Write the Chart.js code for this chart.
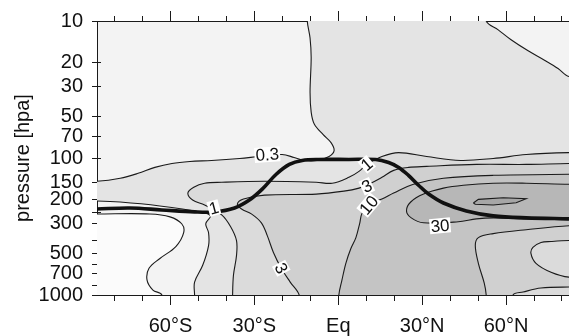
<!DOCTYPE html>
<html>
<head>
<meta charset="utf-8">
<script src="https://cdn.jsdelivr.net/npm/chart.js@4.4.1/dist/chart.umd.min.js"></script>
<style>
  html, body { margin: 0; padding: 0; background: #fff; }
  #wrap { width: 571px; height: 336px; }
</style>
</head>
<body>
<div id="wrap"><canvas id="section" width="571" height="336"></canvas></div>
<script>
// latitude / pressure extent of the cross-section
const latRange = [-86.3, 82.5];
const presRange = [10, 1000];

// axis ticks
const latTicks = [-80, -70, -60, -50, -40, -30, -20, -10, 0, 10, 20, 30, 40, 50, 60, 70, 80];
const latNames = { '-60': '60°S', '-30': '30°S', '0': 'Eq', '30': '30°N', '60': '60°N' };
const presTicks = [10, 20, 30, 50, 70, 100, 150, 200, 250, 300, 400, 500, 600, 700, 850, 1000];
const presLabels = [10, 20, 30, 50, 70, 100, 150, 200, 300, 500, 700, 1000];

// contour levels
const levels = [0.1, 0.3, 1, 3, 10, 30, 100];

// contour outlines as [lat, hPa]; points beyond the frame close each region
const below01 = [[-95, 256], [-86.3, 256], [-67.4, 256], [-60.2, 269], [-56, 302], [-55.3, 351],
  [-58.1, 443], [-63.8, 541], [-67.7, 638], [-68.4, 779], [-66.3, 920], [-63.1, 1000],
  [-63.1, 1400], [-95, 1400]];

const c03 = [[-95, 148], [-86.3, 148], [-78, 140.6], [-71.6, 129.4], [-65.6, 117.1], [-59.5, 109.6],
  [-53.1, 106], [-45.3, 104.2], [-35.3, 100.8], [-28.2, 97.5], [-20.1, 94.4], [-15.8, 99.1],
  [-12.2, 104.2], [-7.6, 104.2], [-3.3, 97.5], [-1.5, 88.3], [-2.6, 77.3], [-5.4, 67.6],
  [-8.6, 56.4], [-9.7, 46.2], [-10.1, 33.1], [-9.7, 18.5], [-10.1, 13.3], [-11.1, 10],
  [-11.1, 7], [52.9, 7], [52.9, 10], [57.2, 11.6], [61.8, 13.7], [67.9, 16.5], [73.9, 19.4],
  [78.6, 22.2], [82.5, 25.4], [95, 25.4], [95, 1400], [-51.4, 1400], [-51.4, 1000],
  [-51.4, 805], [-48.5, 607], [-46.4, 435.5], [-46.4, 351], [-47.4, 302], [-45.7, 264],
  [-49.6, 247.5], [-63.8, 223.9], [-78, 209.5], [-86.3, 206], [-95, 206]];

const c1 = [[-37.8, 1400], [-37.8, 1000], [-37.5, 717], [-36.4, 514], [-36.4, 400.6], [-38.5, 317.5],
  [-41.7, 260], [-47.8, 220.3], [-52.1, 202.7], [-53.8, 180.4], [-51.7, 163.3], [-47.8, 152.8],
  [-41.7, 150.3], [-26.4, 147.9], [-7.9, 150.3], [-2.2, 152.8], [3.8, 138.3], [7.4, 125.1],
  [10.2, 111.4], [15.6, 97.5], [21.6, 91.3], [31.6, 97.5], [43.7, 104.2], [55.4, 100.8],
  [67.2, 94.4], [82.5, 91.3], [95, 91.3], [95, 1400]];

const c3 = [[-14, 1400], [-14, 1000], [-17.2, 805], [-20.4, 638], [-23.2, 489], [-25.4, 368.5],
  [-27.5, 297.2], [-31.1, 255.8], [-34.6, 235.5], [-36.1, 216.6], [-33.9, 199.4], [-26.4, 186.5],
  [-7.9, 183.4], [2, 174.6], [7.4, 166], [10.9, 155.4], [15.6, 138.3], [19.8, 123.1],
  [25.1, 117.1], [31.6, 115.2], [49.4, 111.4], [67.2, 111.4], [82.5, 109.6], [95, 109.6],
  [95, 400.6], [82.5, 400.6], [76.1, 407], [72.5, 414], [69.6, 450], [68.9, 497.4], [70.7, 587],
  [76.1, 682], [82.5, 741], [95, 741], [95, 875], [82.5, 875], [72.5, 889.6], [66.1, 951],
  [62.5, 1000], [62.5, 1400]];

const c10 = [[0.2, 1400], [0.2, 1000], [1.3, 779], [2.7, 587], [4.5, 458], [6.3, 381], [7.7, 297],
  [8.4, 255.8], [10.9, 216.6], [15.6, 199.4], [19.8, 180.4], [26.9, 155.4], [37.6, 140.6],
  [55.4, 133.8], [82.5, 131.5], [95, 131.5], [95, 312.3], [82.5, 312.3], [67.2, 333.7],
  [55.4, 356.6], [50.1, 381], [49, 435.5], [50.1, 587], [52.2, 819], [52.9, 1000], [52.9, 1400]];

const c30 = [[95, 155.4], [82.5, 155.4], [67.2, 152.8], [55.4, 152.8], [44.7, 158], [37.6, 166],
  [30.5, 183.4], [25.9, 209.5], [24.4, 243.4], [26.1, 273.4], [30.5, 297.2], [42.9, 292],
  [49.4, 278], [55.4, 273.4], [67.2, 278], [82.5, 282.6], [95, 282.6]];

const c100 = [[48.3, 213.1], [50.1, 200.4], [59, 195], [67.2, 198.5], [63.6, 212], [55.4, 220.3],
  [49, 217.8], [48.3, 213.1]];

// thermal tropopause
const tropo = [[-86.3, 235.5], [-74.5, 231.5], [-63.1, 239.4], [-51.4, 247.5], [-44.2, 247.5],
  [-37.1, 231.5], [-31.8, 202.7], [-27.2, 168.8], [-22.2, 131.5], [-17.5, 111.4], [-12.9, 104.2],
  [-6.9, 102.5], [3.8, 102.5], [13.4, 102.5], [18, 107.8], [21.6, 117.1], [25.1, 133.8],
  [28.7, 158], [32.3, 183.4], [37.6, 213.1], [45.8, 243.4], [55.4, 264.4], [67.2, 273.4],
  [82.5, 278]];

// inline contour labels
const labelLevel = [0.3, 1, 3, 10, 30, 1, 3];
const labelLat = [-25.4, 10.2, 10.2, 10.9, 36.4, -44.5, -20.4];
const labelP = [94.4, 111.4, 160.6, 220.3, 312.3, 231.5, 638];
const labelAngle = [-4, -40, -25, -50, -5, -15, 62];

const FONT = '"Liberation Sans", Arial, Helvetica, sans-serif';
const INK = '#1a1a1a';

// grey for each band, lowest first
const regions = [
  { pts: below01, shade: '#fbfbfb' },   // < 0.1
  { pts: c03, shade: '#e4e4e4' },
  { pts: c1, shade: '#dbdbdb' },
  { pts: c3, shade: '#d0d0d0' },
  { pts: c10, shade: '#c4c4c4' },
  { pts: c30, shade: '#b7b7b7' },
  { pts: c100, shade: '#a6a6a6', straight: true }
];
const baseShade = '#f3f3f3'; // 0.1 - 0.3

const toXY = pts => pts.map(([lat, p]) => ({ x: lat, y: p }));

const datasets = regions.map((r, i) => ({
  data: toXY(r.pts),
  showLine: true,
  pointRadius: 0,
  borderColor: INK,
  borderWidth: 1.1,
  backgroundColor: r.shade,
  fill: 'shape',
  tension: r.straight ? 0 : 0.35,
  order: 100 - i
}));

datasets.push({
  data: toXY(tropo),
  showLine: true,
  pointRadius: 0,
  borderColor: '#111',
  borderWidth: 3.6,
  fill: false,
  tension: 0.35,
  order: 0
});

const sectionBg = {
  id: 'sectionBg',
  beforeDraw(chart) {
    const { ctx, chartArea: a } = chart;
    ctx.save();
    ctx.fillStyle = baseShade;
    ctx.fillRect(a.left, a.top, a.right - a.left, a.bottom - a.top);
    ctx.restore();
  }
};

const contourLabels = {
  id: 'contourLabels',
  afterDatasetsDraw(chart) {
    const { ctx, scales: { x, y } } = chart;
    ctx.save();
    ctx.font = '17px ' + FONT;
    ctx.textAlign = 'center';
    ctx.textBaseline = 'middle';
    labelLevel.forEach((lv, i) => {
      const t = String(lv);
      ctx.save();
      ctx.translate(x.getPixelForValue(labelLat[i]), y.getPixelForValue(labelP[i]));
      ctx.rotate(labelAngle[i] * Math.PI / 180);
      const w = ctx.measureText(t).width;
      ctx.fillStyle = '#fff';
      ctx.fillRect(-w / 2 - 1, -7.5, w + 2, 15);
      ctx.fillStyle = '#111';
      ctx.fillText(t, 0, 1);
      ctx.restore();
    });
    ctx.restore();
  }
};

const isMajor = c => c.tick && c.tick.value % 30 === 0;
const setLatTicks = s => { s.ticks = latTicks.map(v => ({ value: v })); };

new Chart(document.getElementById('section'), {
  type: 'scatter',
  data: { datasets },
  options: {
    responsive: false,
    animation: false,
    events: [],
    layout: { padding: 0 },
    elements: { line: { capBezierPoints: false } },
    plugins: {
      legend: { display: false },
      tooltip: { enabled: false },
      filler: { drawTime: 'beforeDatasetsDraw' }
    },
    scales: {
      x: {
        type: 'linear',
        position: 'bottom',
        min: latRange[0],
        max: latRange[1],
        z: 1,
        afterBuildTicks: setLatTicks,
        afterFit: s => { s.height = 41; },
        border: { color: INK, width: 1 },
        grid: {
          drawOnChartArea: false,
          tickLength: 10,
          tickColor: INK,
          tickBorderDash: c => isMajor(c) ? [] : [5, 20]
        },
        ticks: {
          autoSkip: false,
          maxRotation: 0,
          padding: 9,
          color: '#111',
          font: { family: FONT, size: 20 },
          callback: v => latNames[String(v)] || ''
        }
      },
      xTop: {
        type: 'linear',
        position: 'top',
        min: latRange[0],
        max: latRange[1],
        z: 1,
        afterBuildTicks: setLatTicks,
        afterFit: s => { s.height = 18; },
        border: { color: INK, width: 1 },
        grid: {
          drawOnChartArea: false,
          tickLength: 10,
          tickColor: INK,
          tickBorderDash: c => isMajor(c) ? [] : [0, 5, 5, 0]
        },
        ticks: { display: false }
      },
      y: {
        type: 'logarithmic',
        reverse: true,
        min: presRange[0],
        max: presRange[1],
        z: 1,
        afterBuildTicks: s => { s.ticks = presTicks.map(v => ({ value: v })); },
        afterFit: s => { s.width = 97; },
        // short inward stubs: grid lines dashed down to their first 3px
        border: { color: INK, width: 1, dash: [3, 2000] },
        grid: {
          drawOnChartArea: true,
          color: INK,
          tickLength: 5,
          tickColor: INK
        },
        ticks: {
          autoSkip: false,
          padding: 9,
          color: '#111',
          font: { family: FONT, size: 20 },
          callback: v => presLabels.includes(v) ? String(v) : ''
        },
        title: {
          display: true,
          text: 'pressure [hpa]',
          color: '#111',
          font: { family: FONT, size: 20 },
          padding: { top: 11, bottom: 0 }
        }
      }
    }
  },
  plugins: [sectionBg, contourLabels]
});
</script>
</body>
</html>
